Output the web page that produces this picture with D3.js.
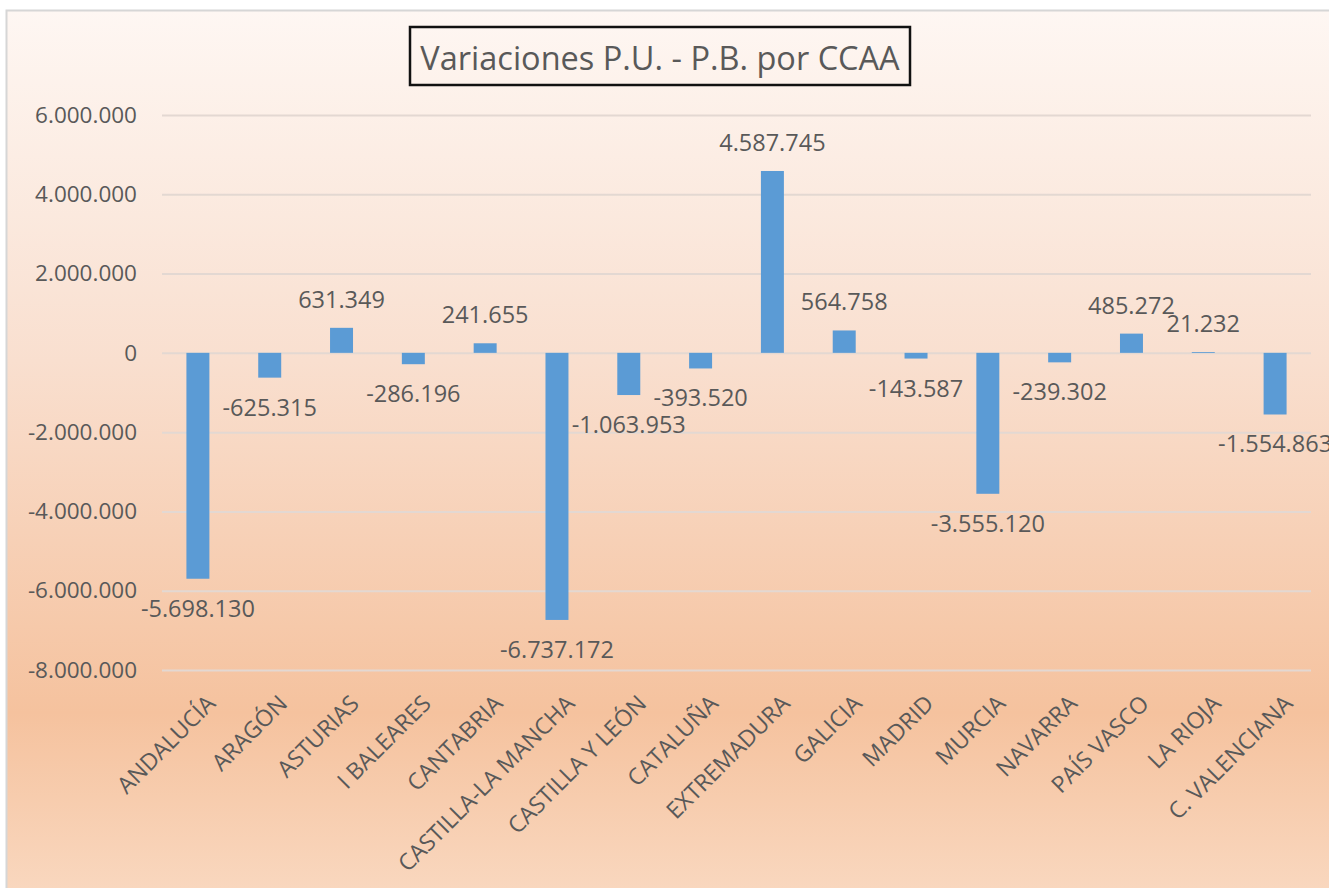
<!DOCTYPE html>
<html>
<head>
<meta charset="utf-8">
<script src="https://cdn.jsdelivr.net/npm/d3@7"></script>
<style>
    html, body { margin: 0; padding: 0; background: #fff; overflow: hidden; }
    svg { display: block; font-family: "Open Sans", "Noto Sans", sans-serif; }
</style>
</head>
<body>
<div id="chart"></div>
<script>
const title = "Variaciones P.U. - P.B. por CCAA";

const regions = [
    "ANDALUCÍA", "ARAGÓN", "ASTURIAS", "I BALEARES", "CANTABRIA",
    "CASTILLA-LA MANCHA", "CASTILLA Y LEÓN", "CATALUÑA", "EXTREMADURA", "GALICIA",
    "MADRID", "MURCIA", "NAVARRA", "PAÍS VASCO", "LA RIOJA", "C. VALENCIANA"
];

const variations = [
    -5698130, -625315, 631349, -286196, 241655,
    -6737172, -1063953, -393520, 4587745, 564758,
    -143587, -3555120, -239302, 485272, 21232, -1554863
];

const yTicks = [6000000, 4000000, 2000000, 0, -2000000, -4000000, -6000000, -8000000];

class VariationChart {
    constructor(container) {
        this.container = container;
        this.init();
    }

    init() {
        this.width = 1329;
        this.height = 888;
        // plot area (gridline extents)
        this.plot = { left: 162, right: 1311, top: 115, bottom: 670 };

        // Spanish number format: 1.234.567
        this.fmt = d3.formatLocale({
            decimal: ",", thousands: ".", grouping: [3], currency: ["", " €"], minus: "-"
        }).format(",d");

        this.createSvg();
        this.createScales();
        this.render();
    }

    createSvg() {
        this.svg = d3.select(this.container)
            .append("svg")
            .attr("width", this.width)
            .attr("height", this.height);

        const grad = this.svg.append("defs")
            .append("linearGradient")
            .attr("id", "bg")
            .attr("gradientUnits", "userSpaceOnUse")
            .attr("x1", 0).attr("y1", 10)
            .attr("x2", 0).attr("y2", 888);
        grad.append("stop").attr("offset", "0").attr("stop-color", "#fef7f3");
        grad.append("stop").attr("offset", "0.4").attr("stop-color", "#f9dfcf");
        grad.append("stop").attr("offset", "0.8").attr("stop-color", "#f5c29e");
        grad.append("stop").attr("offset", "1").attr("stop-color", "#f9d7be");

        // chart frame, cut off on the right and bottom like the reference
        this.svg.append("rect")
            .attr("x", 6.5).attr("y", 10.5)
            .attr("width", 1340).attr("height", 900)
            .attr("fill", "url(#bg)")
            .attr("stroke", "#d6d6d6")
            .attr("stroke-width", 2);
    }

    createScales() {
        this.xScale = d3.scaleBand()
            .domain(regions)
            .range([this.plot.left, this.plot.right])
            .paddingInner(0.68)
            .paddingOuter(0.34);

        this.yScale = d3.scaleLinear()
            .domain([-8000000, 6000000])
            .range([this.plot.bottom, this.plot.top]);
    }

    render() {
        const x = this.xScale, y = this.yScale, fmt = this.fmt;
        const data = regions.map((r, i) => ({ region: r, value: variations[i] }));

        // title box
        this.svg.append("rect")
            .attr("x", 410).attr("y", 27)
            .attr("width", 500).attr("height", 58)
            .attr("fill", "none")
            .attr("stroke", "#111")
            .attr("stroke-width", 2.5);
        this.svg.append("text")
            .attr("x", 660).attr("y", 70)
            .attr("text-anchor", "middle")
            .attr("font-size", 32.5)
            .attr("fill", "#595959")
            .text(title);

        // gridlines + y labels
        const yAxis = this.svg.append("g")
            .attr("transform", `translate(${this.plot.left},0)`)
            .call(d3.axisLeft(y)
                .tickValues(yTicks)
                .tickSize(-(this.plot.right - this.plot.left))
                .tickPadding(25)
                .tickFormat(fmt));
        yAxis.select(".domain").remove();
        yAxis.selectAll(".tick line")
            .attr("stroke", "#e3d8d2")
            .attr("stroke-width", 2);
        yAxis.selectAll(".tick text")
            .attr("font-size", 22.5)
            .attr("font-family", "Open Sans, sans-serif")
            .attr("fill", "#595959");

        // bars
        this.svg.append("g")
            .selectAll("rect")
            .data(data)
            .enter()
            .append("rect")
            .attr("x", d => x(d.region))
            .attr("width", x.bandwidth())
            .attr("y", d => y(Math.max(0, d.value)))
            .attr("height", d => Math.abs(y(d.value) - y(0)))
            .attr("fill", "#5b9bd5");

        // data labels
        this.svg.append("g")
            .selectAll("text")
            .data(data)
            .enter()
            .append("text")
            .attr("x", d => x(d.region) + x.bandwidth() / 2)
            .attr("y", d => d.value >= 0 ? y(d.value) - 20 : y(d.value) + 38)
            .attr("text-anchor", "middle")
            .attr("font-size", 23.5)
            .attr("fill", "#595959")
            .text(d => fmt(d.value));

        // category labels, rotated
        this.svg.append("g")
            .selectAll("text")
            .data(regions)
            .enter()
            .append("text")
            .attr("transform", d => `translate(${x(d) + x.bandwidth() / 2 + 19},705) rotate(-45)`)
            .attr("text-anchor", "end")
            .attr("font-size", 23)
            .attr("fill", "#595959")
            .text(d => d);
    }
}

new VariationChart("#chart");
</script>
</body>
</html>
